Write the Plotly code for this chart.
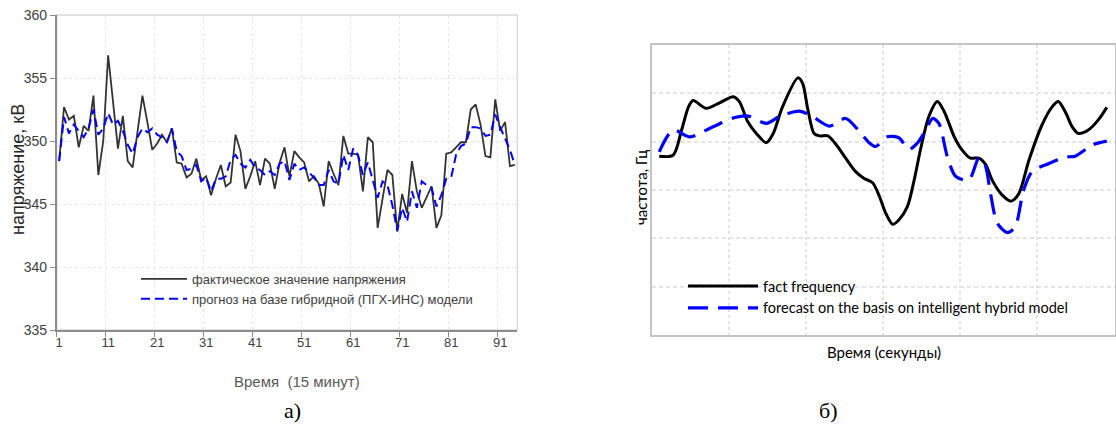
import plotly.graph_objects as go

W, H = 1116, 428

# ---------------- data: chart a) ----------------
periods = list(range(1, 95))
fact_voltage = [348.4, 352.7, 351.7, 352.0, 349.5, 351.2, 350.8, 353.6, 347.3, 350.0,
                356.8, 353.0, 349.4, 352.0, 348.4, 347.9, 350.7, 353.6, 351.5, 349.3,
                349.8, 350.5, 349.9, 351.0, 348.3, 348.2, 347.1, 347.4, 348.6, 346.9,
                347.2, 345.7, 347.0, 348.1, 346.4, 346.7, 350.5, 349.2, 346.2, 347.2,
                348.4, 346.5, 348.6, 348.2, 346.2, 348.3, 349.5, 347.2, 349.2, 348.7,
                348.3, 346.8, 347.2, 346.6, 344.8, 348.4, 347.4, 346.5, 350.4, 349.0,
                349.0, 348.9, 346.0, 350.3, 349.9, 343.1, 345.4, 347.7, 347.3, 342.8,
                345.8, 344.3, 348.4, 346.0, 344.7, 345.6, 346.4, 343.1, 344.1, 349.0,
                349.1, 349.5, 349.9, 349.9, 352.5, 352.9, 351.3, 348.8, 348.7, 353.3,
                350.8, 351.5, 348.0, 348.1]
forecast_voltage = [348.4, 351.9, 350.6, 351.3, 350.8, 350.3, 351.0, 352.5, 350.5, 351.0,
                    352.2, 351.3, 351.6, 350.8, 349.7, 349.0, 350.3, 351.0, 350.7, 351.0,
                    350.5, 350.3, 349.9, 351.0, 349.2, 348.8, 347.7, 347.8, 348.1, 346.8,
                    347.1, 346.0, 347.0, 347.0, 347.2, 348.5, 348.9, 348.2, 347.9, 348.5,
                    347.9, 347.7, 347.3, 347.6, 347.3, 348.2, 348.4, 346.9, 348.2, 347.7,
                    347.9, 347.5, 347.1, 346.5, 346.5, 347.7, 346.8, 346.6, 348.9, 347.7,
                    349.4, 348.9, 347.3, 348.3, 346.8, 345.5, 346.8, 346.5, 344.9, 342.9,
                    344.7, 343.6, 346.0, 344.7, 346.8, 346.5, 346.3, 344.8, 345.7, 347.0,
                    347.1, 348.9, 349.6, 349.8, 351.1, 351.1, 351.0, 350.4, 350.5, 352.1,
                    351.1, 350.2, 349.3, 348.1]
x_ticks_a = [1, 11, 21, 31, 41, 51, 61, 71, 81, 91]
y_ticks_a = [335, 340, 345, 350, 355, 360]
name_fact_a = "фактическое значение напряжения"
name_fc_a = "прогноз на базе гибридной (ПГХ-ИНС) модели"

# ---------------- data: chart б) ----------------
t_fact = [0.09, 0.27, 0.38, 0.47, 0.53, 0.70, 0.88, 1.05, 1.13, 1.24, 1.35, 1.48, 1.57, 1.69,
          1.89, 1.95, 2.02, 2.10, 2.17, 2.28, 2.39, 2.51, 2.64, 2.75, 2.86, 2.95, 3.03, 3.12,
          3.20, 3.31, 3.40, 3.49, 3.59, 3.70, 3.79, 3.92, 4.02, 4.13, 4.24, 4.33, 4.41, 4.54,
          4.66, 4.76, 4.89, 5.06, 5.19, 5.27, 5.36, 5.45, 5.53, 5.66, 5.79, 5.90]
f_fact = [3.70, 3.72, 4.24, 4.72, 4.85, 4.69, 4.81, 4.93, 4.83, 4.41, 4.17, 3.98, 4.17, 4.72,
          5.32, 5.21, 4.66, 4.17, 4.12, 4.12, 3.93, 3.66, 3.38, 3.24, 3.15, 2.86, 2.52, 2.29,
          2.38, 2.65, 3.21, 3.90, 4.52, 4.83, 4.62, 4.10, 3.83, 3.66, 3.66, 3.52, 3.21, 2.90,
          2.77, 2.93, 3.62, 4.35, 4.72, 4.83, 4.62, 4.31, 4.17, 4.24, 4.45, 4.71]
t_fc = [0.09, 0.27, 0.49, 0.79, 1.07, 1.24, 1.48, 1.65, 1.91, 2.08, 2.30, 2.51, 2.69, 2.82,
        2.90, 3.05, 3.20, 3.33, 3.44, 3.55, 3.64, 3.72, 3.83, 3.94, 4.11, 4.24, 4.32, 4.39,
        4.48, 4.61, 4.71, 4.82, 4.93, 5.15, 5.36, 5.49, 5.71, 5.90]
f_fc = [3.79, 4.24, 4.10, 4.31, 4.50, 4.53, 4.38, 4.52, 4.63, 4.52, 4.32, 4.48, 4.21, 3.97,
        3.90, 4.10, 4.08, 3.84, 3.97, 4.24, 4.48, 4.38, 3.69, 3.28, 3.21, 3.66, 3.52, 2.93,
        2.31, 2.12, 2.24, 3.00, 3.38, 3.55, 3.68, 3.70, 3.93, 4.01]
name_fact_b = "fact frequency"
name_fc_b = "forecast on the basis on intelligent hybrid model"


def px(x):
    return x / W


def py(y):
    return 1 - y / H


NARROW = "Liberation Sans Narrow, Arial Narrow, Liberation Sans, Arial"
CAL = "Lato, Open Sans, sans-serif"

fig = go.Figure()

fig.add_trace(go.Scatter(x=periods, y=fact_voltage, mode="lines", name=name_fact_a,
                         line=dict(color="#333333", width=1.8),
                         xaxis="x", yaxis="y", legend="legend"))
fig.add_trace(go.Scatter(x=periods, y=forecast_voltage, mode="lines", name=name_fc_a,
                         line=dict(color="#0000ff", width=2, dash="9px,5px"),
                         xaxis="x", yaxis="y", legend="legend"))

fig.add_trace(go.Scatter(x=t_fact, y=f_fact, mode="lines", name=name_fact_b,
                         line=dict(color="#000000", width=3, shape="spline", smoothing=0.8),
                         xaxis="x2", yaxis="y2", legend="legend2"))
fig.add_trace(go.Scatter(x=t_fc, y=f_fc, mode="lines", name=name_fc_b,
                         line=dict(color="#0000ff", width=3.2, dash="20px,10px",
                                   shape="spline", smoothing=0.8),
                         xaxis="x2", yaxis="y2", legend="legend2"))

grid_a = "#e6e6e6"
fig.update_layout(
    width=W, height=H,
    margin=dict(l=0, r=0, t=0, b=0, autoexpand=False),
    paper_bgcolor="white", plot_bgcolor="white",
    xaxis=dict(domain=[px(56.7), px(517.3)], range=[0.5, 94.5], automargin=False,
               tickvals=x_ticks_a, ticktext=[str(v) for v in x_ticks_a],
               ticks="", showgrid=False, zeroline=False,
               showline=True, linecolor="#8c8c8c", linewidth=1.5,
               tickfont=dict(family=NARROW, size=13, color="#404040"),
               minor=dict(tickvals=[0.5 + 10 * k for k in range(10)], ticks="outside",
                          ticklen=5, tickcolor="#8c8c8c", showgrid=True,
                          gridcolor=grid_a, griddash="dot", gridwidth=1),
               anchor="y", fixedrange=True),
    yaxis=dict(domain=[py(330), py(15)], range=[335, 360], tickvals=y_ticks_a,
               automargin=False,
               ticks="outside", ticklen=5, tickcolor="#8c8c8c",
               showgrid=True, gridcolor=grid_a, griddash="dot", zeroline=False,
               showline=True, linecolor="#8c8c8c", linewidth=1.5,
               tickfont=dict(family=NARROW, size=14, color="#404040"),
               anchor="x", fixedrange=True),
    xaxis2=dict(domain=[px(652.3), px(1114.5)], range=[0, 6], dtick=1, automargin=False,
                showticklabels=False, ticks="", zeroline=False,
                showgrid=True, gridcolor="#e4e4e4", griddash="dot", gridwidth=1.5,
                showline=True, mirror=True, linecolor="#c4c4c4", linewidth=2,
                anchor="y2", fixedrange=True),
    yaxis2=dict(domain=[py(335), py(45)], range=[0, 6], dtick=1, automargin=False,
                showticklabels=False, ticks="", zeroline=False,
                showgrid=True, gridcolor="#e4e4e4", griddash="4px,3px", gridwidth=1.5,
                showline=True, mirror=True, linecolor="#c4c4c4", linewidth=2,
                anchor="x2", fixedrange=True),
    legend=dict(x=px(136), y=py(264), xanchor="left", yanchor="top",
                bgcolor="rgba(0,0,0,0)", itemwidth=46, tracegroupgap=0,
                font=dict(family=NARROW, size=13, color="#404040")),
    legend2=dict(x=px(683), y=py(270), xanchor="left", yanchor="top",
                 bgcolor="rgba(0,0,0,0)", itemwidth=70, tracegroupgap=0,
                 font=dict(family=CAL, size=14.5, color="#000000")),
    showlegend=True,
)

# border of plot area a) (top/right light frame)
fig.add_shape(type="rect", xref="x domain", yref="y domain", x0=0, x1=1, y0=0, y1=1,
              line=dict(color="#d9d9d9", width=1.5), layer="below")

annotations = [
    dict(text="напряжение, кВ", x=px(18), y=py(170), textangle=-90,
         font=dict(family="Liberation Sans, Arial", size=18, color="#262626")),
    dict(text="Время  (15 минут)", x=px(297), y=py(381),
         font=dict(family=NARROW, size=15, color="#595959")),
    dict(text="а)", x=px(292), y=py(410),
         font=dict(family="Liberation Serif, Times New Roman", size=22, color="#000000")),
    dict(text="частота, Гц", x=px(641), y=py(188), textangle=-90,
         font=dict(family=CAL, size=15, color="#000000")),
    dict(text="Время (секунды)", x=px(884), y=py(352),
         font=dict(family=CAL, size=15, color="#000000")),
    dict(text="б)", x=px(828), y=py(410),
         font=dict(family="Liberation Serif, Times New Roman", size=22, color="#000000")),
]
for a in annotations:
    fig.add_annotation(xref="paper", yref="paper", showarrow=False,
                       xanchor="center", yanchor="middle", **a)

fig.write_html("out.html", config={"displayModeBar": False},
               post_script="document.body.style.margin='0';document.body.style.overflow='hidden';")
